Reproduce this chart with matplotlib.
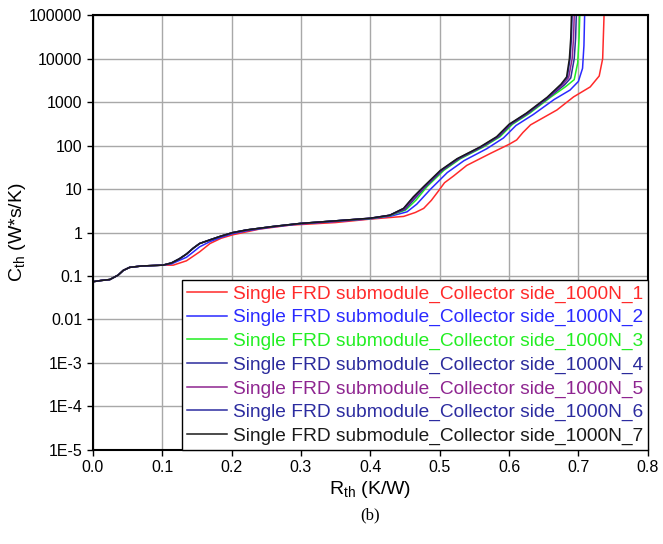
import numpy as np
import matplotlib
matplotlib.use("Agg")
import matplotlib.pyplot as plt

plt.rcParams['font.family'] = ['Liberation Sans', 'DejaVu Sans']
plt.rcParams['mathtext.default'] = 'regular'

# shared low part of the structure functions (curves 3..7)
rth_low = [0.0, 0.012, 0.0245, 0.0365, 0.044, 0.053, 0.07, 0.101, 0.1135, 0.125,
           0.135, 0.145, 0.154, 0.169, 0.185, 0.202, 0.222, 0.26, 0.299, 0.35]
cth_low = [0.074, 0.079, 0.083, 0.105, 0.135, 0.158, 0.17, 0.178, 0.20, 0.25,
           0.32, 0.44, 0.56, 0.68, 0.83, 1.0, 1.15, 1.38, 1.62, 1.86]

# curve 1 (red), full
rth_1 = [0.0, 0.012, 0.0245, 0.0365, 0.044, 0.053, 0.07, 0.101, 0.116, 0.135, 0.154,
         0.169, 0.185, 0.202, 0.24, 0.284, 0.35, 0.40, 0.448, 0.465, 0.477, 0.488,
         0.497, 0.507, 0.52, 0.539, 0.573, 0.60, 0.611, 0.62, 0.631, 0.669, 0.693,
         0.717, 0.730, 0.735, 0.737]
cth_1 = [0.074, 0.079, 0.083, 0.105, 0.135, 0.158, 0.17, 0.178, 0.178, 0.224, 0.36,
         0.56, 0.74, 0.89, 1.2, 1.48, 1.7, 2.04, 2.35, 2.9, 3.6, 5.5,
         8.5, 14, 20, 35, 66, 107, 135, 200, 300, 660, 1320,
         2240, 4000, 10000, 100000]

# curve 2 (blue), full
rth_2 = [0.0, 0.012, 0.0245, 0.0365, 0.044, 0.053, 0.07, 0.101, 0.1135, 0.125, 0.135,
         0.145, 0.154, 0.169, 0.185, 0.202, 0.222, 0.26, 0.299, 0.35, 0.40, 0.43,
         0.453, 0.467, 0.487, 0.511, 0.535, 0.568, 0.592, 0.610, 0.635, 0.665, 0.688,
         0.700, 0.706, 0.708, 0.709]
cth_2 = [0.074, 0.079, 0.083, 0.105, 0.135, 0.158, 0.17, 0.178, 0.19, 0.23, 0.27,
         0.36, 0.47, 0.62, 0.78, 0.95, 1.1, 1.35, 1.58, 1.8, 2.07, 2.4,
         3.0, 4.5, 10, 24, 45, 85, 150, 290, 520, 1150, 1900,
         3000, 6000, 20000, 100000]

# upper parts of curves 3..7
rth_3 = [0.40, 0.428, 0.451, 0.466, 0.482, 0.506, 0.530, 0.563, 0.587, 0.605, 0.630,
         0.660, 0.682, 0.694, 0.699, 0.701, 0.702]
cth_3 = [2.1, 2.45, 3.3, 5.6, 11.5, 27, 50, 93, 160, 310, 560,
         1300, 2300, 3300, 8000, 30000, 100000]
rth_4 = [0.40, 0.428, 0.450, 0.464, 0.480, 0.504, 0.528, 0.561, 0.585, 0.603, 0.628,
         0.658, 0.680, 0.689, 0.694, 0.696, 0.697]
cth_4 = [2.12, 2.5, 3.4, 6.0, 11.5, 27, 50, 93, 160, 310, 560,
         1300, 2500, 3600, 10000, 30000, 100000]
rth_5 = [0.40, 0.428, 0.449, 0.463, 0.479, 0.503, 0.527, 0.560, 0.584, 0.602, 0.627,
         0.657, 0.678, 0.686, 0.691, 0.693, 0.694]
cth_5 = [2.13, 2.5, 3.5, 6.3, 11.5, 27, 50, 93, 160, 310, 560,
         1300, 2600, 3700, 10000, 30000, 100000]
rth_6 = [0.40, 0.428, 0.448, 0.462, 0.478, 0.502, 0.526, 0.559, 0.583, 0.601, 0.626,
         0.656, 0.676, 0.684, 0.688, 0.690, 0.691]
cth_6 = [2.14, 2.5, 3.6, 6.5, 11.5, 27, 50, 93, 160, 310, 560,
         1300, 2600, 3800, 10000, 30000, 100000]
rth_7 = [0.40, 0.428, 0.448, 0.462, 0.477, 0.501, 0.525, 0.558, 0.582, 0.600, 0.625,
         0.655, 0.675, 0.683, 0.687, 0.689, 0.690]
cth_7 = [2.14, 2.5, 3.6, 6.6, 11.5, 27, 50, 93, 160, 310, 560,
         1300, 2600, 3800, 10000, 30000, 100000]

labels = ['Single FRD submodule_Collector side_1000N_%d' % i for i in range(1, 8)]
colors = ['#ff2a2a', '#2a2aff', '#22ee22', '#2b2b9c', '#8e2590', '#2c2ca0', '#1a1a1a']

curves = [(rth_1, cth_1), (rth_2, cth_2)]
for rx, cy in [(rth_3, cth_3), (rth_4, cth_4), (rth_5, cth_5),
               (rth_6, cth_6), (rth_7, cth_7)]:
    curves.append((rth_low + rx, cth_low + cy))

yticks = [1e-5, 1e-4, 1e-3, 1e-2, 1e-1, 1, 10, 100, 1000, 10000, 100000]
ylabels = ['1E-5', '1E-4', '1E-3', '0.01', '0.1', '1', '10', '100', '1000', '10000', '100000']
xticks = [0.0, 0.1, 0.2, 0.3, 0.4, 0.5, 0.6, 0.7, 0.8]

fig = plt.figure(figsize=(6.63, 5.44), dpi=100)
ax = fig.add_axes([0.140, 0.173, 0.837, 0.799])

for (rx, cy), col, lab in zip(curves, colors, labels):
    ax.plot(rx, cy, color=col, lw=1.1, label=lab)

ax.set_yscale('log')
ax.set_xlim(0, 0.8)
ax.set_ylim(1e-5, 1e5)
ax.set_yticks(yticks)
ax.set_yticklabels(ylabels)
ax.minorticks_off()
ax.set_xticks(xticks)
ax.set_xticklabels(['%.1f' % v for v in xticks])
ax.tick_params(labelsize=11.5, direction='out', length=4, width=1)
ax.grid(True, color='#a8a8a8', lw=1.0)
for s in ax.spines.values():
    s.set_linewidth(1.5)

ax.set_xlabel('R$_{th}$ (K/W)', fontsize=14, labelpad=3)
ax.set_ylabel('C$_{th}$ (W*s/K)', fontsize=14, labelpad=1)

leg = ax.legend(loc='lower right', fontsize=13.8, handlelength=2.1, handletextpad=0.3,
                labelspacing=0.32, borderaxespad=0, fancybox=False, framealpha=1,
                edgecolor='black', borderpad=0.25)
leg.get_frame().set_linewidth(1.0)
for t, col in zip(leg.get_texts(), colors):
    t.set_color(col)

fig.text(0.558, 0.052, '(b)', fontsize=12, family='Liberation Serif', ha='center', va='center')

fig.savefig('out.png', dpi=100)
